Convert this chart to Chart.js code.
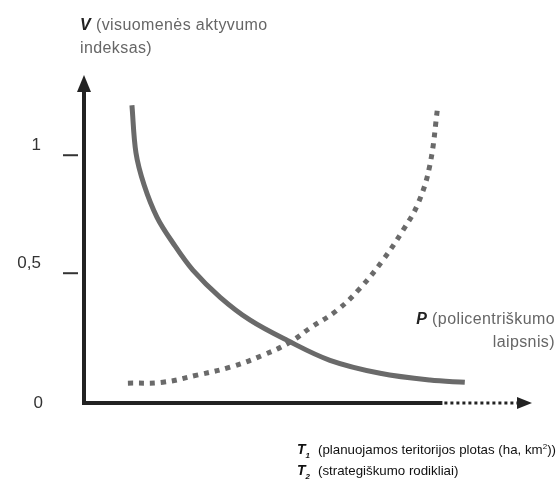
<!DOCTYPE html>
<html>
<head>
<meta charset="utf-8">
<script src="https://cdn.jsdelivr.net/npm/chart.js@4"></script>
<style>
  html, body { margin: 0; padding: 0; background: #fff; overflow: hidden; }
  #wrap { position: relative; width: 560px; height: 486px; }
  .note { position: absolute; font-family: "Liberation Sans", Arial, sans-serif; font-size: 16px; letter-spacing: 0.4px; color: #666; line-height: 23px; white-space: nowrap; }
  .note b { color: #222; font-style: italic; }
  .legend { position: absolute; left: 297px; top: 439px; font-family: "Liberation Sans", Arial, sans-serif; font-size: 13.3px; color: #111; line-height: 20px; white-space: nowrap; }
  .legend b { font-style: italic; display: inline-block; width: 21px; font-size: 14px; }
  .legend sub, .legend sup { font-size: 8px; line-height: 0; }
</style>
</head>
<body>
<div id="wrap">
  <canvas id="chart" width="560" height="486"></canvas>
  <div class="note" style="left:80px; top:13px;"><b>V</b> (visuomenės aktyvumo<br>indeksas)</div>
  <div class="note" style="right:5px; top:307px; text-align:right;"><b>P</b> (policentriškumo<br>laipsnis)</div>
  <div class="legend">
    <div><b>T<sub>1</sub></b>(planuojamos teritorijos plotas (ha, km<sup>2</sup>))</div>
    <div><b>T<sub>2</sub></b>(strategiškumo rodikliai)</div>
  </div>
</div>
<script>
// V decreases as P grows (solid), the other curve rises (dotted)
const solidX = [10.7, 11.6, 13.4, 16.3, 19.9, 24.3, 30.4, 37.1, 45.3, 54.9, 66.1, 77.2, 85.0];
const solidY = [1.212, 1.010, 0.875, 0.737, 0.627, 0.513, 0.398, 0.301, 0.216, 0.131, 0.076, 0.047, 0.038];
const dottedX = [9.8, 17.6, 25.2, 32.6, 40.0, 46.0, 50.4, 56.5, 61.6, 66.7, 71.2, 74.6, 77.2, 79.0];
const dottedY = [0.034, 0.038, 0.068, 0.102, 0.153, 0.208, 0.267, 0.343, 0.436, 0.555, 0.682, 0.797, 0.958, 1.212];
const tickValues = [0.5, 1];
const tickLabels = ['0,5', '1'];
const originLabel = '0';
const axisSolidEnd = 80; // x axis turns dotted after this

const toPoints = (xs, ys) => xs.map((x, i) => ({ x: x, y: ys[i] }));

// hand-drawn style axes with arrows
const axesPlugin = {
  id: 'axes',
  beforeDatasetsDraw(chart) {
    const { ctx, chartArea: a, scales } = chart;
    const ink = '#222';
    ctx.save();
    ctx.strokeStyle = ink;
    ctx.fillStyle = ink;
    ctx.lineCap = 'butt';

    // y axis
    ctx.lineWidth = 4;
    ctx.beginPath();
    ctx.moveTo(a.left, a.bottom + 2);
    ctx.lineTo(a.left, a.top + 14);
    ctx.stroke();
    ctx.beginPath();
    ctx.moveTo(a.left, a.top);
    ctx.lineTo(a.left - 7, a.top + 17);
    ctx.lineTo(a.left + 7, a.top + 17);
    ctx.closePath();
    ctx.fill();

    // x axis: solid, then dotted, then arrow
    const xs = scales.x.getPixelForValue(axisSolidEnd);
    ctx.beginPath();
    ctx.moveTo(a.left - 2, a.bottom);
    ctx.lineTo(xs, a.bottom);
    ctx.stroke();
    ctx.lineWidth = 3;
    ctx.setLineDash([3, 3]);
    ctx.beginPath();
    ctx.moveTo(xs + 2, a.bottom);
    ctx.lineTo(a.right - 14, a.bottom);
    ctx.stroke();
    ctx.setLineDash([]);
    ctx.beginPath();
    ctx.moveTo(a.right, a.bottom);
    ctx.lineTo(a.right - 15, a.bottom - 6);
    ctx.lineTo(a.right - 15, a.bottom + 6);
    ctx.closePath();
    ctx.fill();

    // ticks, detached from the axis
    ctx.lineWidth = 2;
    ctx.strokeStyle = '#333';
    ctx.fillStyle = '#333';
    ctx.font = '17px "Liberation Sans", Arial, sans-serif';
    ctx.textAlign = 'right';
    ctx.textBaseline = 'middle';
    tickValues.forEach((v, i) => {
      const y = scales.y.getPixelForValue(v);
      ctx.beginPath();
      ctx.moveTo(a.left - 21, y);
      ctx.lineTo(a.left - 6, y);
      ctx.stroke();
      ctx.fillText(tickLabels[i], a.left - 43, y - 10);
    });
    ctx.fillText(originLabel, a.left - 41, a.bottom);
    ctx.restore();
  }
};

new Chart(document.getElementById('chart'), {
  type: 'scatter',
  data: {
    datasets: [
      {
        data: toPoints(solidX, solidY),
        showLine: true,
        borderColor: '#6a6a6a',
        borderWidth: 5,
        pointRadius: 0,
        tension: 0.35,
        fill: false
      },
      {
        data: toPoints(dottedX, dottedY),
        showLine: true,
        borderColor: '#6a6a6a',
        borderWidth: 5,
        borderDash: [5, 6],
        borderCapStyle: 'butt',
        pointRadius: 0,
        tension: 0.4,
        fill: false
      }
    ]
  },
  options: {
    responsive: false,
    animation: false,
    events: [],
    layout: { padding: { left: 84, right: 28, top: 75, bottom: 83 } },
    plugins: {
      legend: { display: false },
      tooltip: { enabled: false }
    },
    scales: {
      x: { type: 'linear', display: false, min: 0, max: 100 },
      y: { type: 'linear', display: false, min: -0.05, max: 1.34 }
    }
  },
  plugins: [axesPlugin]
});
</script>
</body>
</html>
